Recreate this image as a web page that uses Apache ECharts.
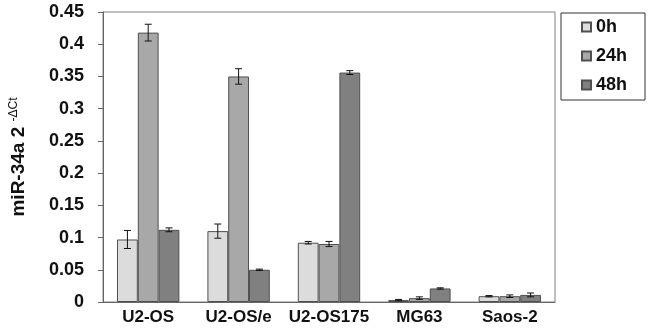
<!DOCTYPE html>
<html>
<head>
<meta charset="utf-8">
<script src="https://cdn.jsdelivr.net/npm/echarts@6/dist/echarts.min.js"></script>
<style>
  html, body { margin: 0; padding: 0; background: #fff; }
  #chart { width: 651px; height: 328px; }
</style>
</head>
<body>
<div id="chart"></div>
<script>
// data
const cellLines = ['U2-OS', 'U2-OS/e', 'U2-OS175', 'MG63', 'Saos-2']
const timePoints = ['0h', '24h', '48h']
const mean0h = [0.097, 0.110, 0.092, 0.003, 0.009]
const mean24h = [0.418, 0.350, 0.090, 0.006, 0.009]
const mean48h = [0.112, 0.050, 0.356, 0.021, 0.011]
const err0h = [0.014, 0.011, 0.002, 0.001, 0.001]
const err24h = [0.013, 0.012, 0.004, 0.002, 0.002]
const err48h = [0.003, 0.001, 0.003, 0.001, 0.003]

const FONT = "'Liberation Sans', Arial, sans-serif"
const barColors = ['#dcdcdc', '#a8a8a8', '#808080']
const means = [mean0h, mean24h, mean48h]
const errs = [err0h, err24h, err48h]
const CAT_GAP = 0.31

const chart = echarts.init(document.getElementById('chart'))

// error bars drawn on top of each bar, same offset as bar series
function errorSeries(idx) {
  return {
    type: 'custom',
    name: 'err' + timePoints[idx],
    z: 5,
    silent: true,
    encode: { x: 0, y: 1 },
    data: cellLines.map((c, i) => [i, means[idx][i], errs[idx][i]]),
    renderItem(params, api) {
      const cat = api.value(0)
      const v = api.value(1)
      const e = api.value(2)
      const bandW = api.size([1, 0])[0]
      const barW = bandW * (1 - CAT_GAP) / 3
      const dx = (idx - 1) * barW
      const hi = api.coord([cat, v + e])
      const lo = api.coord([cat, v - e])
      const x = hi[0] + dx
      const cap = 3.5
      const style = { stroke: '#111', lineWidth: 1 }
      return {
        type: 'group',
        children: [
          { type: 'line', shape: { x1: x, y1: hi[1], x2: x, y2: lo[1] }, style },
          { type: 'line', shape: { x1: x - cap, y1: hi[1], x2: x + cap, y2: hi[1] }, style },
          { type: 'line', shape: { x1: x - cap, y1: lo[1], x2: x + cap, y2: lo[1] }, style }
        ]
      }
    }
  }
}

const barSeries = timePoints.map((t, idx) => ({
  name: t,
  type: 'bar',
  data: means[idx],
  barGap: 0,
  barCategoryGap: (CAT_GAP * 100) + '%',
  itemStyle: {
    color: barColors[idx],
    borderColor: '#505050',
    borderWidth: 1
  }
}))

const option = {
  animation: false,
  textStyle: { fontFamily: FONT },
  grid: {
    left: 99,
    right: 96,
    top: 12,
    bottom: 26,
    show: true,
    borderColor: '#808080',
    borderWidth: 1
  },
  legend: {
    data: timePoints,
    orient: 'vertical',
    left: 561,
    top: 13,
    padding: [5, 18, 6, 20],
    itemWidth: 9,
    itemHeight: 9,
    itemGap: 11,
    borderColor: '#333',
    borderWidth: 1,
    icon: 'rect',
    textStyle: { fontFamily: FONT, fontSize: 18, fontWeight: 'bold', color: '#111' }
  },
  xAxis: {
    type: 'category',
    data: cellLines,
    axisLine: { lineStyle: { color: '#666', width: 1 } },
    axisTick: { show: false },
    axisLabel: {
      interval: 0,
      margin: 7,
      fontFamily: FONT,
      fontSize: 17,
      fontWeight: 'bold',
      color: '#111'
    }
  },
  yAxis: {
    type: 'value',
    min: 0,
    max: 0.45,
    interval: 0.05,
    name: '{main|miR-34a 2 }{sup|-ΔCt}',
    nameLocation: 'middle',
    nameRotate: 90,
    nameGap: 73,
    nameTextStyle: {
      rich: {
        main: { fontFamily: FONT, fontSize: 19, fontWeight: 'bold', color: '#111', lineHeight: 22 },
        sup: { fontFamily: FONT, fontSize: 12, color: '#111', verticalAlign: 'top', lineHeight: 22 }
      }
    },
    splitLine: { show: false },
    axisLine: { show: true, lineStyle: { color: '#666', width: 1 } },
    axisTick: { show: true, length: 5, lineStyle: { color: '#666' } },
    axisLabel: {
      margin: 19,
      fontFamily: FONT,
      fontSize: 18,
      fontWeight: 'bold',
      color: '#111'
    }
  },
  series: barSeries.concat(timePoints.map((t, idx) => errorSeries(idx)))
}

chart.setOption(option)
</script>
</body>
</html>
